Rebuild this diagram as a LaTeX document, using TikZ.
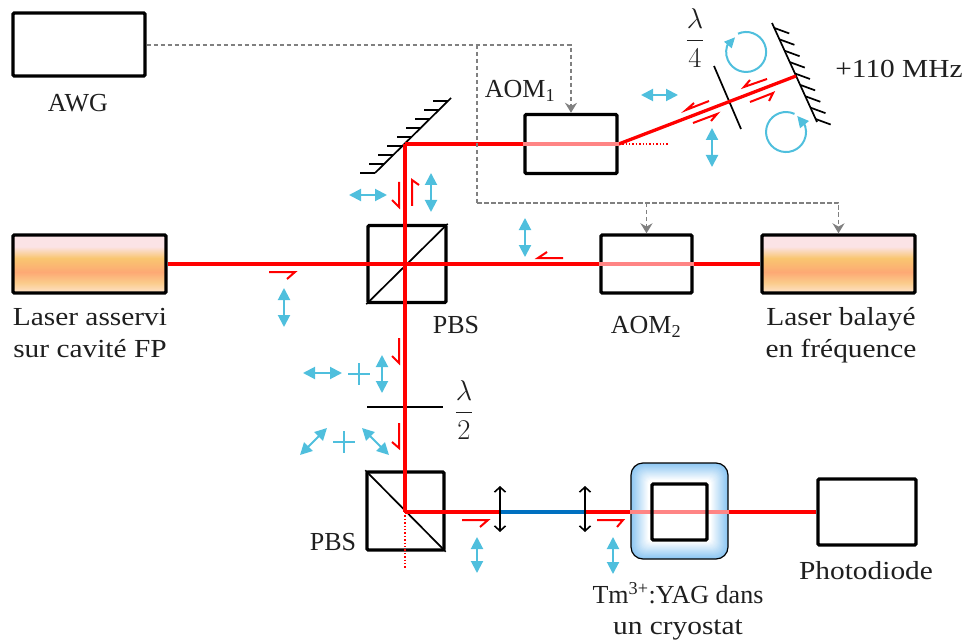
\documentclass[tikz,border=0pt]{standalone}
\usepackage{amsmath}
\usepackage{fontspec}
\setmainfont[FakeStretch=1.13]{Liberation Serif}
\newfontfamily\capfont{Liberation Serif}
\usetikzlibrary{arrows.meta,calc}
\definecolor{ink}{HTML}{000000}
\definecolor{label}{HTML}{1F1F1F}
\definecolor{beamred}{HTML}{FF0000}
\definecolor{beamlight}{HTML}{FF8585}
\definecolor{beamblue}{HTML}{0070C0}
\definecolor{polcyan}{HTML}{4FBFDD}
\definecolor{rfgray}{HTML}{808080}
\definecolor{cryoblue}{HTML}{8CC6F2}
\definecolor{laserpink}{HTML}{FBE3E6}
\definecolor{laseramber}{HTML}{F9C670}
\definecolor{lasercore}{HTML}{FDA974}
\definecolor{laserlow}{HTML}{FBCB8A}
\definecolor{laserfoot}{HTML}{FEE3CC}
\pgfdeclareverticalshading{laserfill}{100bp}{
  color(0bp)=(laserfoot);
  color(25bp)=(laserfoot);
  color(34bp)=(laserlow);
  color(43bp)=(lasercore);
  color(55bp)=(laseramber);
  color(65bp)=(laserpink);
  color(75bp)=(laserpink);
  color(100bp)=(laserpink)}
\tikzset{
  every node/.style={text=label},
  box/.style={draw=ink, fill=white, rounded corners=1.2pt, line width=3.4pt,
    inner sep=0pt},
  laser/.style={box, shade, shading=laserfill},
  txt/.style={font=\fontsize{26}{32}\selectfont, align=center, inner sep=0pt},
  captxt/.style={txt, font=\fontsize{26}{32}\selectfont\capfont},
  frac/.style={font=\fontsize{24}{32}\selectfont, scale=1.15, inner sep=0pt},
  beam/.style={draw=beamred, line width=3.3pt},
  beamin/.style={draw=beamlight, line width=3.3pt},
  thinline/.style={draw=ink, line width=1.7pt},
  rfline/.style={draw=rfgray, dash pattern=on 4.5pt off 2.5pt, line width=1.5pt},
  rfarrow/.style={rfline, -{Stealth[length=10pt,width=12pt]}},
  polar/.style={draw=beamred, line width=2pt, line join=miter},
  polarrow/.style={draw=polcyan, line width=2pt,
    {Triangle[length=12pt,width=12pt]}-{Triangle[length=12pt,width=12pt]}},
  polarc/.style={draw=polcyan, line width=2pt},
  lens/.style={draw=ink, line width=1.6pt,
    {Straight Barb[length=5pt,width=11pt]}-{Straight Barb[length=5pt,width=11pt]}}
}

\begin{document}
\begin{tikzpicture}[x=1pt,y=-1pt]
\useasboundingbox (0,0) rectangle (965,644);

% Instruments and acousto-optic cells
\node[box, minimum width=132pt, minimum height=63pt] (awg) at (79,44.5) {};
\node[laser, minimum width=153pt, minimum height=58pt] (lock) at (89.5,264) {};
\node[laser, minimum width=153pt, minimum height=58pt] (sweep) at (838.5,264) {};
\node[box, minimum width=92pt, minimum height=59pt] (aoma) at (571,144) {};
\node[box, minimum width=91pt, minimum height=58pt] (aomb) at (646.5,264) {};
\node[box, minimum width=78pt, minimum height=77pt] (pbsa) at (407,264) {};
\node[box, minimum width=77pt, minimum height=78pt] (pbsb) at (405.5,511) {};
\node[box, minimum width=98pt, minimum height=66pt] (diode) at (867,512) {};

% Cryostat: nested outlines give the soft blue edge
\foreach \i in {0,1,...,17}{
  \pgfmathsetmacro{\shadeamt}{100-5.88*\i}
  \pgfmathsetmacro{\cornerrad}{max(12-0.5*\i,1)}
  \fill[cryoblue!\shadeamt!white, rounded corners=\cornerrad pt]
    (631+\i,463+\i) rectangle (728-\i,559-\i);
}
\node[draw=ink, line width=1.2pt, rounded corners=12pt, minimum width=97pt,
  minimum height=96pt, inner sep=0pt] (cryo) at (679.5,511) {};

% Free ends of the beams
\coordinate (mirroraa) at (375,173);
\coordinate (mirrorab) at (451,98);
\coordinate (turn) at (405,144);
\coordinate (mirrorba) at (772,23);
\coordinate (mirrorbb) at (817,122);
\coordinate (back) at (796,76);
\coordinate (platea) at (714,66);
\coordinate (plateb) at (741,129);
\coordinate (halfa) at (367,407);
\coordinate (halfb) at (443,407);
\coordinate (lensab) at (500,486);
\coordinate (lensaa) at (500,532);
\coordinate (lensbb) at (585,486);
\coordinate (lensba) at (585,532);
\coordinate (split) at (405,512);
\coordinate (stray) at (668,144);
\coordinate (leak) at (405,568);

% Cube diagonals, mirrors and wave plates
\draw[thinline] (pbsa.south west) -- (pbsa.north east);
\draw[thinline] (pbsb.north west) -- (pbsb.south east);
\draw[thinline] (mirroraa) -- (mirrorab);
\foreach \t in {0,...,8}{
  \draw[thinline] ($(mirroraa)!{\t/8*0.964}!(mirrorab)$) -- ++(-15,0);
}
\draw[thinline] (mirrorba) -- (mirrorbb);
\foreach \t in {0,...,8}{
  \draw[thinline] ($(mirrorba)!{0.05+\t/8*0.92}!(mirrorbb)$) -- ++(15,5.5);
}
\draw[thinline] (platea) -- (plateb);
\draw[thinline] (halfa) -- (halfb);

% Beams
\draw[beam] (lock.east) -- (sweep.west);
\draw[beam] (turn) -- (split);
\draw[beam] (turn) -- (aoma.west);
\draw[beam] (aoma.east) -- (back);
\draw[beam] (split) -- (lensaa |- split);
\draw[beam] (lensbb |- split) -- (diode.west);
\draw[draw=beamblue, line width=3.3pt] (lensaa |- split) -- (lensbb |- split);
\draw[beamin] (aoma.west) -- (aoma.east);
\draw[beamin] (aomb.west) -- (aomb.east);
\draw[beamin] (cryo.west |- split) -- (cryo.east |- split);
\draw[draw=beamred, dotted, line width=1.4pt] (aoma.east) -- (stray);
\draw[draw=beamred, dotted, line width=1.4pt] (split) -- (leak);

% Sample sits over the beam, lenses across it
\node[box, fill=none, minimum width=55pt, minimum height=56pt] (sample) at (679.5,512) {};
\draw[lens] (lensaa) -- (lensab);
\draw[lens] (lensba) -- (lensbb);

% RF lines from the generator
\coordinate (rftop) at (477,45);
\coordinate (rfbottom) at (477,203);
\draw[rfarrow] (awg.east |- rftop) -| (aoma.north);
\draw[rfline] (rftop) -- (rfbottom);
\draw[rfarrow] (rfbottom) -| (sweep.north);
\draw[rfarrow] (aomb.north |- rfbottom) -- (aomb.north);

% Polarisation marks
\draw[polar] (269,272) -- (295,272) -- (287,279);
\draw[polar] (563,258) -- (538,258) -- (547,252);
\draw[polar] (399,182) -- (399,207) -- (392,200);
\draw[polar] (412,206) -- (412,180) -- (419,185);
\draw[polar] (399,338) -- (399,363) -- (392,356);
\draw[polar] (399,423) -- (399,448) -- (392,442);
\draw[polar] (462,520) -- (488,520) -- (480,527);
\draw[polar] (597,520) -- (623,520) -- (617,527);
\draw[polar] (709,101) -- (686,110) -- (694,103);
\draw[polar] (693,123) -- (717,114) -- (711,121);
\draw[polar] (767,79) -- (744,87) -- (750,80);
\draw[polar] (750,102) -- (773,93) -- (769,101);

% Polarisation states
\draw[polarrow] (349,195) -- (387,195);
\draw[polarrow] (431,173) -- (431,212);
\draw[polarrow] (284,288) -- (284,327);
\draw[polarrow] (525,218) -- (525,257);
\draw[polarrow] (641,95) -- (678,95);
\draw[polarrow] (712,128) -- (712,167);
\draw[polarrow] (303,373) -- (342,373);
\draw[polarrow] (382,355) -- (382,393);
\draw[polarrow] (300,455) -- (327,428);
\draw[polarrow] (362,428) -- (389,455);
\draw[polarrow] (477,537) -- (477,573);
\draw[polarrow] (613,537) -- (613,574);
\draw[polarc] (348,374) -- (370,374) (359,363) -- (359,385);
\draw[polarc] (333,442) -- (355,442) (344,431) -- (344,453);
\draw[polarc] (738,33.7) arc[start angle=114, end angle=-210, radius=20pt];
\fill[polcyan] (735,37.3) -- (724,41.7) -- (731.7,48.3) -- cycle;
\draw[polarc] (794.5,113.9) arc[start angle=65, end angle=390, radius=20pt];
\fill[polcyan] (797.3,116) -- (809,121) -- (800,128.3) -- cycle;

% Labels
\node[captxt] (awglabel) at (78,103) {AWG};
\node[captxt] (aomalabel) at (520,91) {AOM\textsubscript{1}};
\node[captxt] (aomblabel) at (646,327) {AOM\textsubscript{2}};
\node[txt] (locklabel) at (90,333) {Laser asservi\\sur cavité FP};
\node[txt] (sweeplabel) at (841,335) {Laser balayé\\en fréquence};
\node[captxt] (pbsalabel) at (456,325) {PBS};
\node[captxt] (pbsblabel) at (333,542) {PBS};
\node[txt] (difflabel) at (899,69) {+110 MHz};
\node[txt] (diodelabel) at (866,571) {Photodiode};
\node[captxt] (cryolabela) at (678,593) {Tm\textsuperscript{3+}:YAG dans};
\node[txt] (cryolabelb) at (678,630) {un cryostat};
\node[frac] (quarter) at (695,38) {$\dfrac{\lambda}{4}$};
\node[frac] (half) at (464,410) {$\dfrac{\lambda}{2}$};

\end{tikzpicture}
\end{document}
